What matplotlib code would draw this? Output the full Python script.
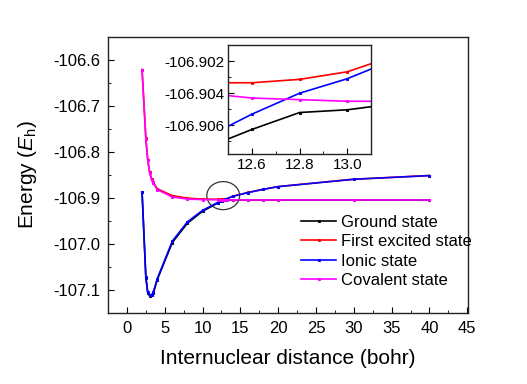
import matplotlib
matplotlib.use("Agg")
import matplotlib.pyplot as plt
from matplotlib.patches import Ellipse
from matplotlib.ticker import MultipleLocator, FormatStrFormatter

plt.rcParams['font.family'] = ['Liberation Sans', 'DejaVu Sans']
plt.rcParams['mathtext.fontset'] = 'custom'
plt.rcParams['mathtext.rm'] = 'Liberation Sans'
plt.rcParams['mathtext.it'] = 'Liberation Sans:italic'
plt.rcParams['axes.unicode_minus'] = False

# Internuclear distance (bohr)
r = [2, 2.5, 2.75, 3, 3.25, 3.5, 4, 6, 8, 10, 12, 12.4, 12.6, 12.8, 13.0, 13.2,
     14, 16, 18, 20, 30, 40]

# Energies (Eh)
ground = [-106.888, -107.073, -107.106, -107.113, -107.112, -107.107, -107.078,
          -106.997, -106.955, -106.929, -106.9112, -106.90743, -106.90625,
          -106.9052, -106.90503, -106.90465, -106.9050, -106.9048, -106.9047,
          -106.9046, -106.9046, -106.9046]
first_excited = [-106.621, -106.770, -106.817, -106.844, -106.858, -106.866,
                 -106.880, -106.895, -106.9005, -106.9025, -106.9032,
                 -106.90335, -106.90335, -106.90314, -106.90267, -106.90167,
                 -106.8962, -106.8882, -106.8813, -106.8753, -106.8593, -106.8513]
ionic = [-106.887, -107.072, -107.105, -107.111, -107.111, -107.104, -107.076,
         -106.994, -106.952, -106.927, -106.910, -106.9068, -106.9053,
         -106.9040, -106.9031, -106.9019, -106.8966, -106.8885, -106.8815,
         -106.8755, -106.8595, -106.8515]
covalent = [-106.622, -106.771, -106.818, -106.845, -106.860, -106.868,
            -106.882, -106.898, -106.9025, -106.9037, -106.9038, -106.9040,
            -106.9043, -106.9044, -106.9045, -106.9045, -106.9045, -106.9045,
            -106.9045, -106.9045, -106.9045, -106.9045]

series = [
    (ground, 'black', 'Ground state'),
    (first_excited, 'red', 'First excited state'),
    (ionic, 'blue', 'Ionic state'),
    (covalent, 'magenta', 'Covalent state'),
]

fig = plt.figure(figsize=(5.27, 3.84), dpi=100)
ax = fig.add_axes([0.205, 0.185, 0.683, 0.719])

for y, c, lab in series:
    ax.plot(r, y, color=c, lw=1.2, marker='s', ms=1.2, label=lab)

ax.set_xlim(-2.5, 45.1)
ax.set_ylim(-107.15, -106.55)
ax.xaxis.set_major_locator(MultipleLocator(5))
ax.xaxis.set_minor_locator(MultipleLocator(2.5))
ax.yaxis.set_major_locator(MultipleLocator(0.1))
ax.yaxis.set_minor_locator(MultipleLocator(0.05))
ax.yaxis.set_major_formatter(FormatStrFormatter('%.1f'))
ax.tick_params(which='both', direction='in', labelsize=12, pad=5.5)
ax.tick_params(which='major', length=4)
ax.tick_params(which='minor', length=2)
for s in ax.spines.values():
    s.set_linewidth(1.0)
    s.set_color('#222222')

ax.set_xlabel('Internuclear distance (bohr)', fontsize=15, labelpad=10)
ax.set_ylabel(r'Energy ($E_\mathrm{h}$)', fontsize=15, labelpad=10)

ax.add_patch(Ellipse((12.73, -106.895), 4.34, 0.061, fill=False,
                     edgecolor='#333333', lw=0.9))

ax.legend(loc='center left', bbox_to_anchor=(0.514, 0.223), frameon=False,
          fontsize=12, borderpad=0, handlelength=2.1, handletextpad=0.3,
          labelspacing=0.27)

# inset
axi = fig.add_axes([0.433, 0.598, 0.271, 0.285])
for y, c, lab in series:
    axi.plot(r, y, color=c, lw=1.2, marker='s', ms=1.2)
axi.set_xlim(12.5, 13.1)
axi.set_ylim(-106.9078, -106.901)
axi.xaxis.set_major_locator(MultipleLocator(0.2))
axi.xaxis.set_minor_locator(MultipleLocator(0.1))
axi.yaxis.set_major_locator(MultipleLocator(0.002))
axi.yaxis.set_minor_locator(MultipleLocator(0.001))
axi.xaxis.set_major_formatter(FormatStrFormatter('%.1f'))
axi.yaxis.set_major_formatter(FormatStrFormatter('%.3f'))
axi.tick_params(which='both', direction='in', labelsize=11, pad=2.5)
axi.tick_params(which='major', length=4)
axi.tick_params(which='minor', length=2)
for s in axi.spines.values():
    s.set_linewidth(1.0)
    s.set_color('#222222')

fig.savefig('out.png', dpi=100)
